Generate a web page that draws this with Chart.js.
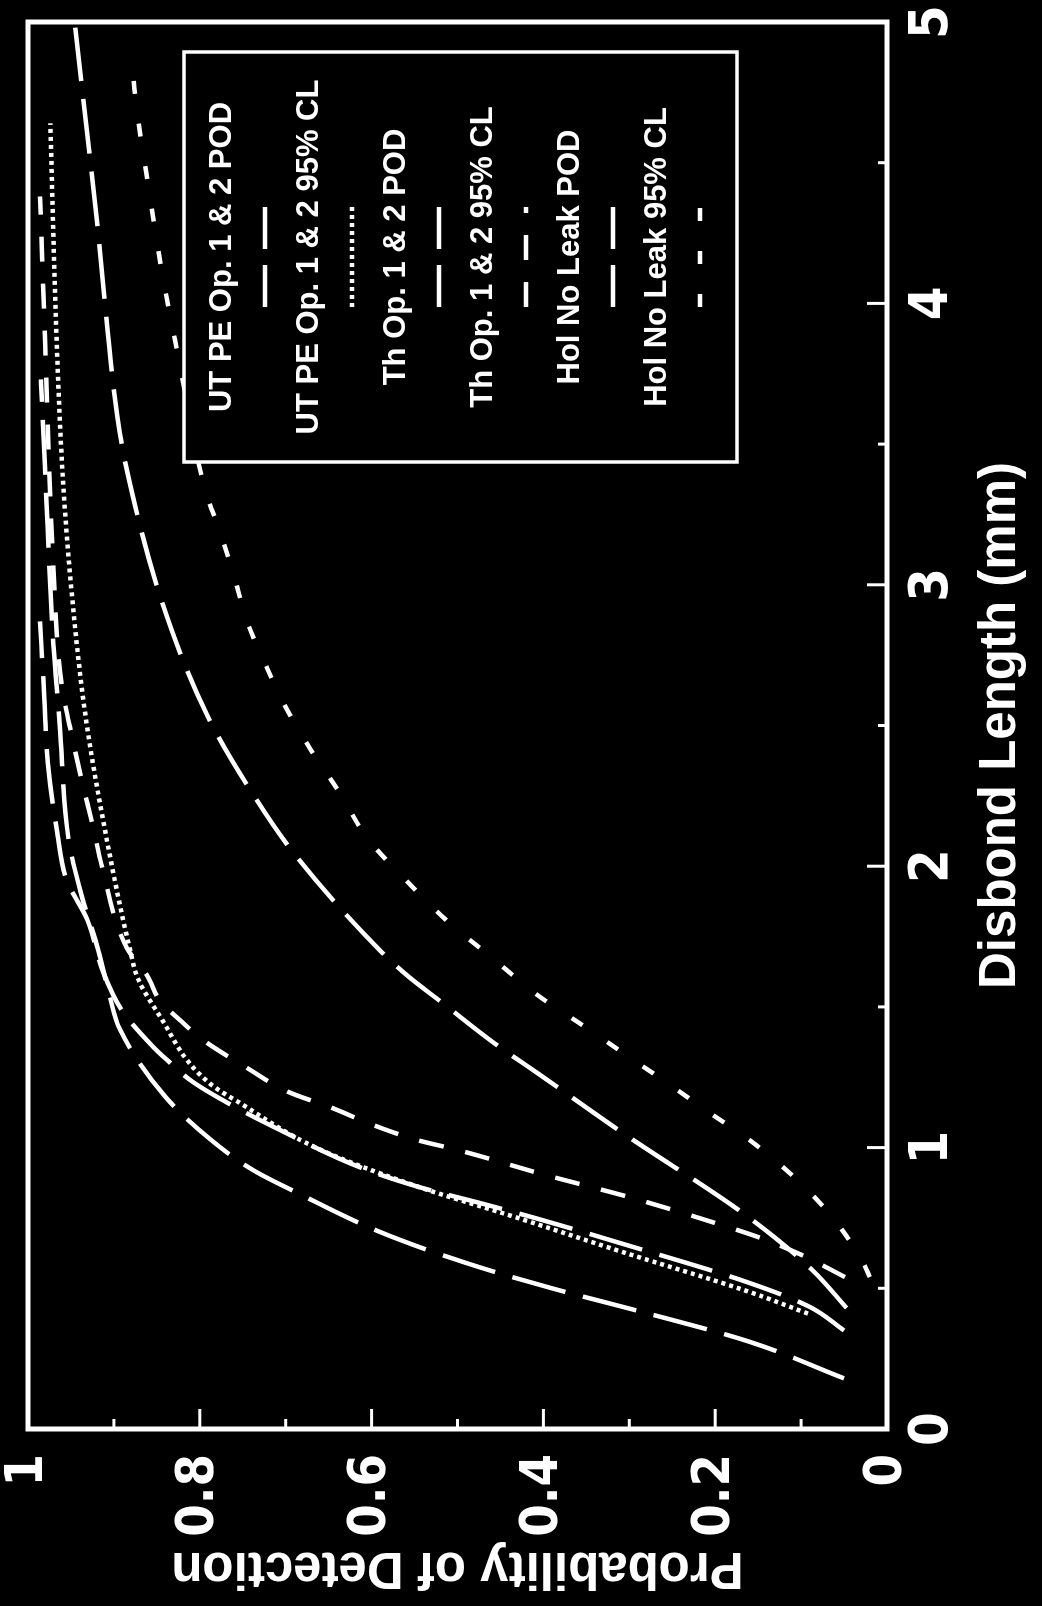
<!DOCTYPE html>
<html>
<head>
<meta charset="utf-8">
<script src="https://cdn.jsdelivr.net/npm/chart.js@4.4.1/dist/chart.umd.min.js"></script>
<style>
    html, body { margin: 0; padding: 0; background: #000; overflow: hidden; }
    #wrap {
        position: absolute; left: 0; top: 0;
        width: 1606px; height: 1042px;
        transform-origin: 0 0;
        transform: translate(0, 1606px) rotate(-90deg);
    }
</style>
</head>
<body>
<div id="wrap"><canvas id="podChart" width="1606" height="1042"></canvas></div>
<script>
// tick values
const lenTicks = [0, 1, 2, 3, 4, 5];
const podTicks = [0, 0.2, 0.4, 0.6, 0.8, 1];

// UT PE Op. 1 & 2
const utPodLen  = [0.18, 0.31, 0.42, 0.50, 0.59, 0.70, 0.84, 0.92, 1.03, 1.18, 1.42, 1.54, 1.70, 1.90, 2.10, 2.50, 2.81, 3.20, 3.73];
const utPodProb = [0.05, 0.16, 0.29, 0.39, 0.49, 0.59, 0.687, 0.738, 0.788, 0.84, 0.893, 0.905, 0.918, 0.938, 0.953, 0.963, 0.971, 0.977, 0.985];
const utClLen   = [0.41, 0.487, 0.63, 0.76, 0.86, 1.0, 1.158, 1.22, 1.3, 1.45, 1.6, 1.70, 2.22, 2.555, 3.0, 3.41, 3.9, 4.64];
const utClProb  = [0.092, 0.16, 0.309, 0.44, 0.545, 0.665, 0.753, 0.785, 0.812, 0.843, 0.872, 0.881, 0.916, 0.934, 0.95, 0.96, 0.967, 0.974];

// Th Op. 1 & 2
const thPodLen  = [0.35, 0.434, 0.519, 0.661, 0.75, 0.80, 0.86, 0.927, 1.063, 1.141, 1.233, 1.311, 1.357, 1.489, 1.62, 1.81, 1.95, 2.12, 2.37, 2.60, 2.87];
const thPodProb = [0.05, 0.09, 0.16, 0.311, 0.41, 0.47, 0.545, 0.611, 0.707, 0.757, 0.808, 0.838, 0.854, 0.891, 0.912, 0.931, 0.955, 0.966, 0.977, 0.981, 0.986];
const thClLen   = [0.54, 0.618, 0.682, 0.732, 0.824, 0.903, 0.991, 1.027, 1.08, 1.141, 1.198, 1.283, 1.382, 1.453, 1.52, 1.61, 1.71, 2.0, 2.15, 2.3, 2.45, 2.65, 3.1, 3.85, 4.38];
const thClProb  = [0.049, 0.099, 0.15, 0.20, 0.30, 0.398, 0.499, 0.547, 0.598, 0.646, 0.697, 0.745, 0.796, 0.823, 0.846, 0.861, 0.885, 0.914, 0.925, 0.937, 0.948, 0.961, 0.971, 0.98, 0.986];

// Hol No Leak
const holPodLen  = [0.43, 0.565, 0.75, 1.055, 1.265, 1.375, 1.52, 1.61, 1.70, 2.04, 2.26, 2.54, 2.93, 3.41, 3.60, 4.3, 4.98];
const holPodProb = [0.047, 0.087, 0.16, 0.309, 0.407, 0.459, 0.52, 0.558, 0.59, 0.689, 0.739, 0.792, 0.843, 0.885, 0.896, 0.92, 0.945];
const holClLen   = [0.54, 0.593, 0.75, 0.892, 1.02, 1.127, 1.23, 1.336, 1.436, 1.54, 1.675, 1.80, 1.95, 2.10, 2.255, 2.41, 2.565, 2.72, 2.87, 3.03, 3.20, 3.33, 3.81, 4.11, 4.42, 4.73, 4.89];
const holClProb  = [0.02, 0.028, 0.063, 0.107, 0.157, 0.208, 0.256, 0.307, 0.355, 0.406, 0.46, 0.51, 0.56, 0.605, 0.636, 0.67, 0.70, 0.724, 0.745, 0.76, 0.778, 0.793, 0.825, 0.844, 0.860, 0.875, 0.879];

// dash patterns: [on curve, in legend sample]
const longDash = [[55, 18], [42, 16]];
const dotted = [[4, 4], [4, 4]];
const midDash = [[25, 22], [25, 22]];
const shortDash = [[13, 30], [13, 30]];

const narrowFont = "'Liberation Sans Narrow', 'Arial Narrow', 'DejaVu Sans Condensed', sans-serif";
const plainFont = "'Liberation Sans', Arial, sans-serif";

function pts(xs, ys) {
    return xs.map((x, i) => ({ x: x, y: ys[i] }));
}

function series(label, xs, ys, dash) {
    return {
        label: label,
        data: pts(xs, ys),
        borderColor: '#fff',
        borderWidth: 4.5,
        borderDash: dash[0],
        sampleDash: dash[1],
        pointRadius: 0,
        fill: false,
        cubicInterpolationMode: 'monotone'
    };
}

// frame, inward ticks and the boxed legend
const framePlugin = {
    id: 'frame',
    afterDatasetsDraw(chart) {
        const ctx = chart.ctx;
        const a = chart.chartArea;
        const xs = chart.scales.x;
        const ys = chart.scales.y;
        ctx.save();
        ctx.strokeStyle = '#fff';
        ctx.setLineDash([]);

        ctx.lineWidth = 3;
        lenTicks.forEach((v, i) => {
            let px = xs.getPixelForValue(v);
            ctx.beginPath(); ctx.moveTo(px, a.bottom); ctx.lineTo(px, a.bottom - 20); ctx.stroke();
            if (i < lenTicks.length - 1) {
                px = xs.getPixelForValue((v + lenTicks[i + 1]) / 2);
                ctx.beginPath(); ctx.moveTo(px, a.bottom); ctx.lineTo(px, a.bottom - 9); ctx.stroke();
            }
        });
        podTicks.forEach((v, i) => {
            let py = ys.getPixelForValue(v);
            ctx.beginPath(); ctx.moveTo(a.left, py); ctx.lineTo(a.left + 20, py); ctx.stroke();
            if (i < podTicks.length - 1) {
                py = ys.getPixelForValue((v + podTicks[i + 1]) / 2);
                ctx.beginPath(); ctx.moveTo(a.left, py); ctx.lineTo(a.left + 10, py); ctx.stroke();
            }
        });

        ctx.lineWidth = 5;
        ctx.strokeRect(a.left, a.top, a.right - a.left, a.bottom - a.top);

        // legend box
        const box = { left: 1144, top: 184, width: 410, height: 553 };
        ctx.fillStyle = '#000';
        ctx.fillRect(box.left, box.top, box.width, box.height);
        ctx.lineWidth = 3.5;
        ctx.strokeRect(box.left, box.top, box.width, box.height);

        const cx = box.left + box.width / 2;
        ctx.fillStyle = '#fff';
        ctx.font = 'bold 31px ' + plainFont;
        ctx.textAlign = 'center';
        ctx.textBaseline = 'middle';
        chart.data.datasets.forEach((ds, i) => {
            const ty = box.top + 38 + 87 * i;
            ctx.fillText(ds.label, cx, ty);
            const ly = box.top + 81 + 87 * i;
            ctx.lineWidth = 4.5;
            ctx.setLineDash(ds.sampleDash);
            ctx.beginPath(); ctx.moveTo(cx - 50, ly); ctx.lineTo(cx + 50, ly); ctx.stroke();
        });
        ctx.restore();
    }
};

let ctx = document.getElementById('podChart').getContext('2d');
let podChart = new Chart(ctx, {
    type: 'line',
    data: {
        datasets: [
            series('UT PE Op. 1 & 2 POD', utPodLen, utPodProb, longDash),
            series('UT PE Op. 1 & 2 95% CL', utClLen, utClProb, dotted),
            series('Th Op. 1 & 2 POD', thPodLen, thPodProb, longDash),
            series('Th Op. 1 & 2 95% CL', thClLen, thClProb, midDash),
            series('Hol No Leak POD', holPodLen, holPodProb, longDash),
            series('Hol No Leak 95% CL', holClLen, holClProb, shortDash)
        ]
    },
    options: {
        responsive: false,
        animation: false,
        devicePixelRatio: 1,
        layout: { padding: { left: 0, top: 28, right: 22, bottom: 0 } },
        plugins: {
            legend: { display: false },
            tooltip: { enabled: false }
        },
        scales: {
            x: {
                type: 'linear',
                min: 0,
                max: 5,
                afterFit: s => { s.height = 155; s.paddingLeft = 0; s.paddingRight = 0; },
                afterBuildTicks: s => { s.ticks = lenTicks.map(v => ({ value: v })); },
                grid: { display: false, drawTicks: false },
                border: { display: false },
                ticks: {
                    color: '#fff',
                    padding: 14,
                    maxRotation: 0,
                    autoSkip: false,
                    callback: v => String(v),
                    font: { family: narrowFont, size: 54, weight: 'bold' }
                },
                title: {
                    display: true,
                    text: 'Disbond Length (mm)',
                    color: '#fff',
                    font: { family: plainFont, size: 51, weight: 'bold' },
                    padding: { top: 0, bottom: 10 }
                }
            },
            y: {
                type: 'linear',
                min: 0,
                max: 1,
                afterFit: s => { s.width = 177; s.paddingTop = 0; s.paddingBottom = 0; },
                afterBuildTicks: s => { s.ticks = podTicks.map(v => ({ value: v })); },
                grid: { display: false, drawTicks: false },
                border: { display: false },
                ticks: {
                    color: '#fff',
                    padding: 25,
                    autoSkip: false,
                    callback: v => String(v),
                    font: { family: narrowFont, size: 52, weight: 'bold' }
                },
                title: {
                    display: true,
                    text: 'Probability of Detection',
                    color: '#fff',
                    font: { family: plainFont, size: 51, weight: 'bold' },
                    padding: { top: 8, bottom: 0 }
                }
            }
        }
    },
    plugins: [framePlugin]
});
</script>
</body>
</html>
